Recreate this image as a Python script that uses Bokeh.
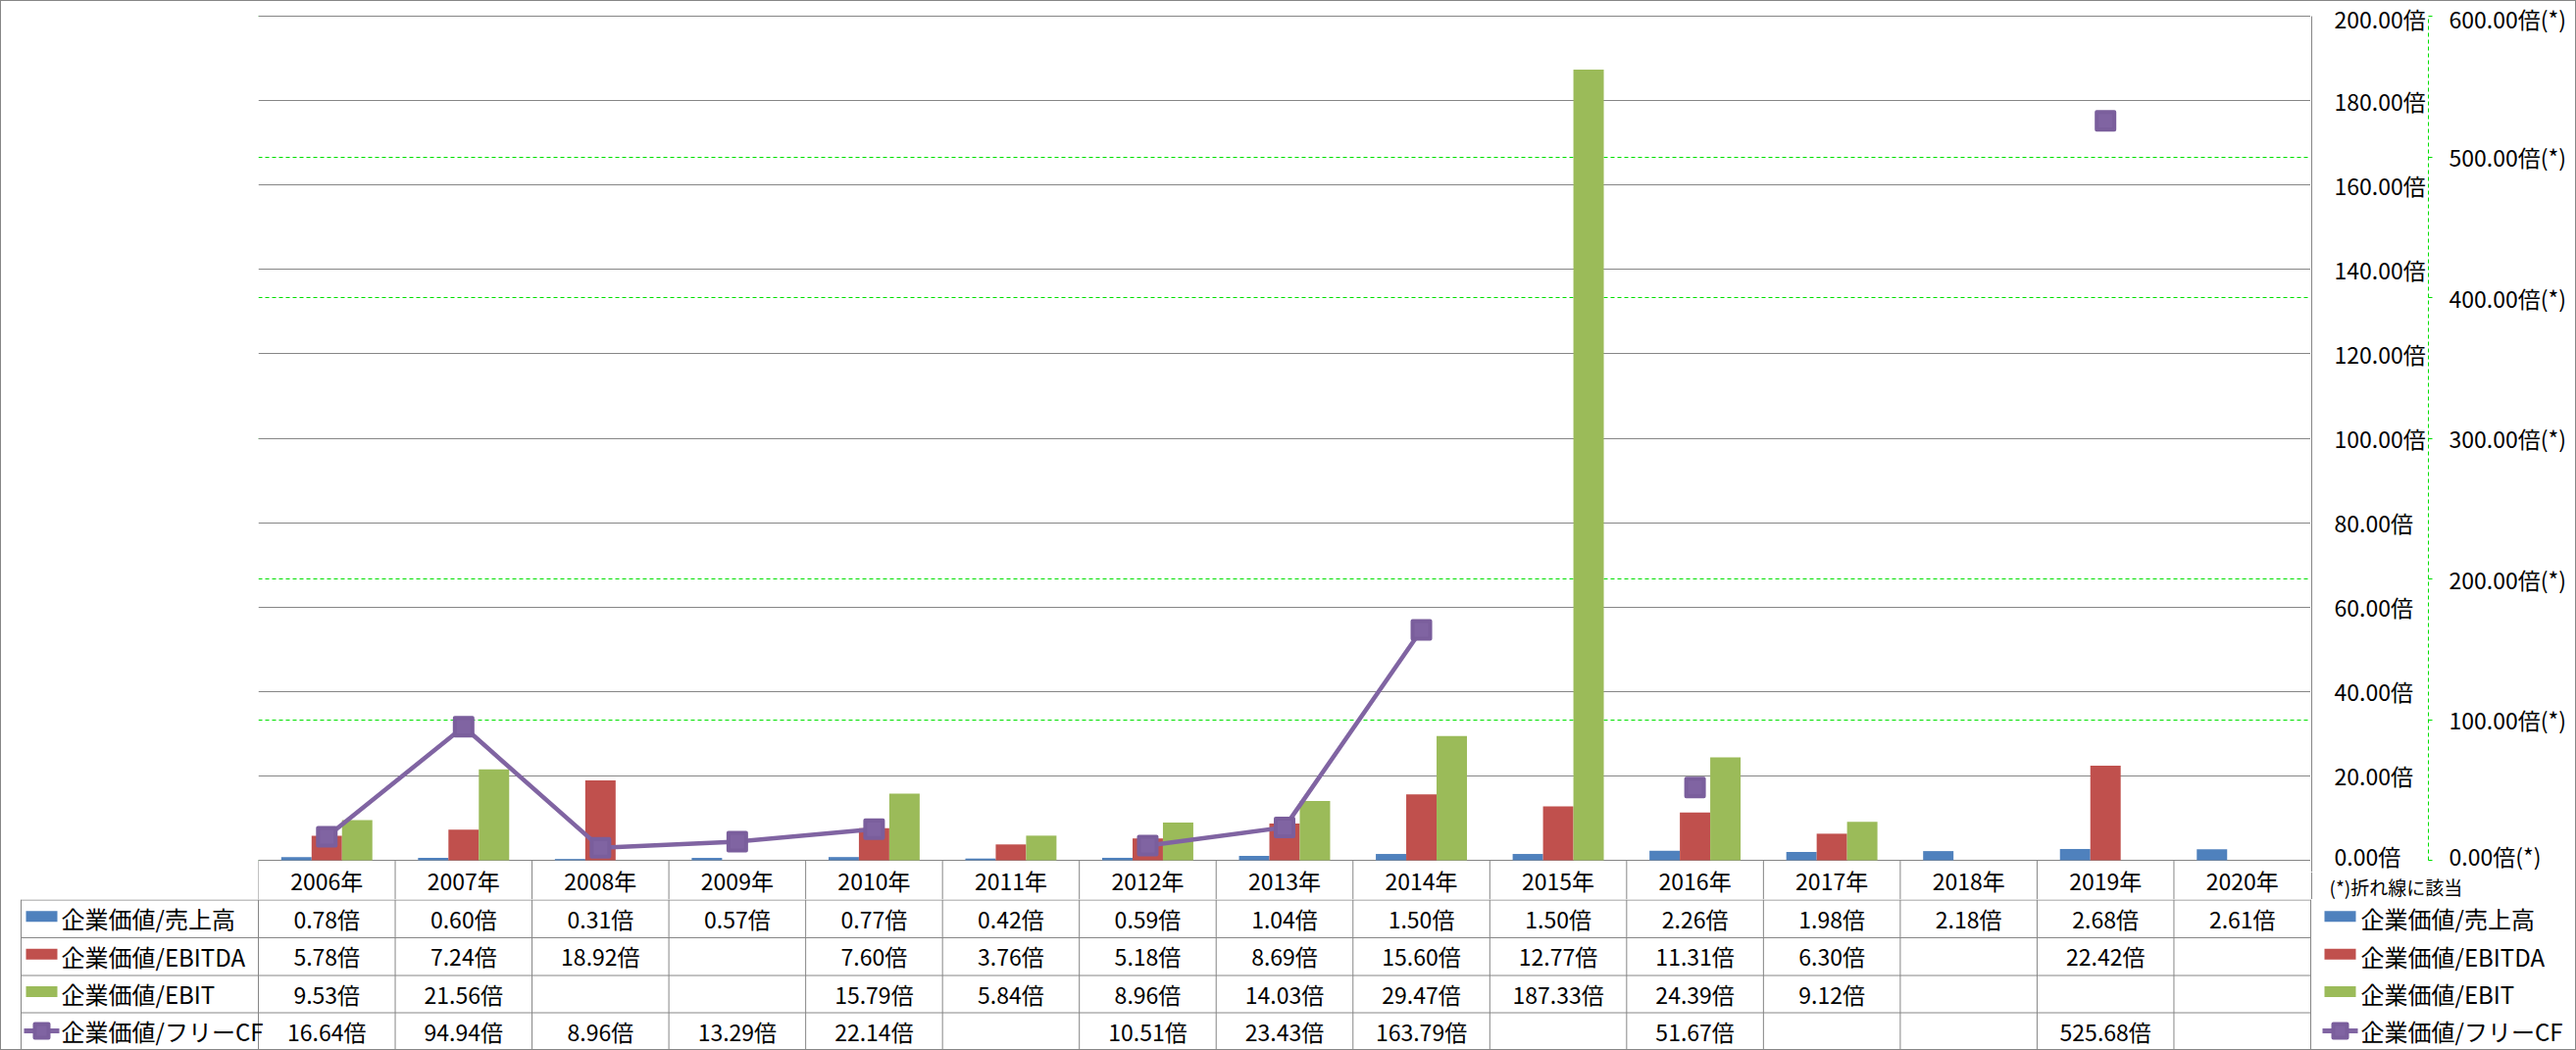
from bokeh.plotting import figure
from bokeh.layouts import column, row
from bokeh.models import Range1d, LinearAxis, FixedTicker, Grid, ColumnDataSource
from bokeh.transform import dodge
from bokeh.core.properties import value
from bokeh.embed import file_html
from bokeh.resources import INLINE

nan = float("nan")

# ---------------- data ----------------
years = ["2006年", "2007年", "2008年", "2009年", "2010年", "2011年", "2012年", "2013年",
         "2014年", "2015年", "2016年", "2017年", "2018年", "2019年", "2020年"]
ev_sales = [0.78, 0.60, 0.31, 0.57, 0.77, 0.42, 0.59, 1.04, 1.50, 1.50, 2.26, 1.98, 2.18, 2.68, 2.61]
ev_ebitda = [5.78, 7.24, 18.92, nan, 7.60, 3.76, 5.18, 8.69, 15.60, 12.77, 11.31, 6.30, nan, 22.42, nan]
ev_ebit = [9.53, 21.56, nan, nan, 15.79, 5.84, 8.96, 14.03, 29.47, 187.33, 24.39, 9.12, nan, nan, nan]
ev_fcf = [16.64, 94.94, 8.96, 13.29, 22.14, nan, 10.51, 23.43, 163.79, nan, 51.67, nan, nan, 525.68, nan]
series_names = ["企業価値/売上高", "企業価値/EBITDA", "企業価値/EBIT", "企業価値/フリーCF"]

primary_ticks = [0, 20, 40, 60, 80, 100, 120, 140, 160, 180, 200]
primary_tick_labels = ["0.00倍", "20.00倍", "40.00倍", "60.00倍", "80.00倍", "100.00倍",
                       "120.00倍", "140.00倍", "160.00倍", "180.00倍", "200.00倍"]
secondary_ticks = [0, 100, 200, 300, 400, 500, 600]
secondary_tick_labels = ["0.00倍(*)", "100.00倍(*)", "200.00倍(*)", "300.00倍(*)",
                         "400.00倍(*)", "500.00倍(*)", "600.00倍(*)"]
note_text = "(*)折れ線に該当"

# ---------------- style / layout ----------------
BLUE, RED, GREEN, PURPLE = "#4F81BD", "#C0504D", "#9BBB59", "#8064A2"
PURPLE_EDGE = "#7a5e9c"
GRAY = "#868686"
LIME = "#00E000"
FONT = "Noto Sans CJK JP"

W, H = 2627, 1071
FL, FR = 263, 2356          # plot area left / right (canvas px)
Y0, YTOP = 877, 16          # pixel of value 0 and of the top tick
SPLIT = 889                 # bottom of the axes block (right side)
ROWS = [877, 917, 955.5, 994, 1032, 1070]
YEAR_C = 897.5              # centre of the header row text
TL = 21                     # left edge of the table's label column
N = len(years)
CW = (FR - FL) / N
kp = (Y0 - YTOP) / primary_ticks[-1]
ks = (Y0 - YTOP) / secondary_ticks[-1]

INNER_W = W - 2
P_W = FR - 1
SIDE_W = INNER_W - P_W


def no_frame_align(fig):
    if "frame_align" in fig.properties():
        fig.frame_align = False
    fig.outline_line_color = None
    fig.background_fill_color = "white"
    fig.border_fill_color = "white"


def yr(top_px, bottom_px, k):
    return Range1d(-(bottom_px - Y0) / k, (Y0 - top_px) / k)


# ================= chart (plot area + header row) =================
p = figure(width=P_W, height=ROWS[1] - 1, x_range=years, y_range=yr(1, ROWS[1], kp),
           x_axis_type=None, y_axis_type=None, output_backend="svg", toolbar_location=None,
           min_border_left=FL - 1, min_border_right=0, min_border_top=0, min_border_bottom=0)
no_frame_align(p)
p.extra_y_ranges = {"sec": yr(1, ROWS[1], ks)}
p.x_range.range_padding = 0

sec_grid = Grid(dimension=1, ticker=FixedTicker(ticks=secondary_ticks), y_range_name="sec",
                grid_line_color=LIME, grid_line_dash="4 3", grid_line_width=1)
pri_grid = Grid(dimension=1, ticker=FixedTicker(ticks=primary_ticks),
                grid_line_color=GRAY, grid_line_width=1)
p.add_layout(sec_grid, "center")
p.add_layout(pri_grid, "center")

src = ColumnDataSource(dict(year=years, sales=ev_sales, ebitda=ev_ebitda, ebit=ev_ebit, fcf=ev_fcf))

bw = 0.222
p.vbar(x=dodge("year", -bw, range=p.x_range), top="sales", width=bw, source=src,
       fill_color=BLUE, line_color=None)
p.vbar(x=dodge("year", 0, range=p.x_range), top="ebitda", width=bw, source=src,
       fill_color=RED, line_color=None)
p.vbar(x=dodge("year", bw, range=p.x_range), top="ebit", width=bw, source=src,
       fill_color=GREEN, line_color=None)
p.line(x="year", y="fcf", source=src, y_range_name="sec", line_color=PURPLE,
       line_width=4.5, line_join="round")
p.scatter(x="year", y="fcf", source=src, y_range_name="sec", marker="square", size=18,
          fill_color=PURPLE, line_color=PURPLE_EDGE, line_width=4, line_join="round")

# header row: category boundaries and category names
bounds_x = list(range(N + 1))
p.segment(x0=bounds_x, x1=bounds_x, y0=0, y1=p.y_range.start, line_color=GRAY, line_width=1)
p.text(x="year", y=-(YEAR_C - Y0) / kp, text="year", source=src, text_align="center",
       text_baseline="middle", text_font=value(FONT), text_font_size="23px",
       text_color="black")

# ================= value axes (right side) =================
pa = figure(width=SIDE_W, height=SPLIT - 1, x_range=Range1d(0, 1), y_range=yr(1, SPLIT, kp),
            x_axis_type=None, y_axis_location="right", output_backend="svg",
            toolbar_location=None, min_border_left=0, min_border_right=SIDE_W - 1,
            min_border_top=0, min_border_bottom=0)
no_frame_align(pa)
pa.extra_y_ranges = {"sec": yr(1, SPLIT, ks)}
pa.ygrid.visible = False

ya = pa.yaxis[0]
ya.ticker = FixedTicker(ticks=primary_ticks)
ya.bounds = (pa.y_range.start, primary_ticks[-1])
ya.major_label_overrides = {t: l for t, l in zip(primary_ticks, primary_tick_labels)}
ya.axis_line_color = GRAY
ya.major_tick_out = 0
ya.major_tick_in = 0
ya.minor_tick_out = 0
ya.minor_tick_in = 0
ya.major_label_standoff = 23
ya.major_label_text_font = FONT
ya.major_label_text_font_size = "23px"
ya.major_label_text_color = "black"

sa = LinearAxis(y_range_name="sec", ticker=FixedTicker(ticks=secondary_ticks),
                bounds=(secondary_ticks[0], secondary_ticks[-1]))
sa.major_label_overrides = {t: l for t, l in zip(secondary_ticks, secondary_tick_labels)}
sa.axis_line_color = LIME
sa.axis_line_dash = "4 3"
sa.major_tick_out = 4
sa.major_tick_in = 0
sa.major_tick_line_color = LIME
sa.minor_tick_out = 0
sa.minor_tick_in = 0
sa.major_label_standoff = 17
sa.major_label_text_font = FONT
sa.major_label_text_font_size = "23px"
sa.major_label_text_color = "black"
pa.add_layout(sa, "right")

# ================= note under the axes =================
pn = figure(width=SIDE_W, height=ROWS[1] - SPLIT, x_range=Range1d(FR, W - 1),
            y_range=Range1d(ROWS[1], SPLIT), x_axis_type=None, y_axis_type=None,
            output_backend="svg", toolbar_location=None,
            min_border_left=0, min_border_right=0, min_border_top=0, min_border_bottom=0)
no_frame_align(pn)
pn.segment(x0=[FR + 1], x1=[FR + 1], y0=[SPLIT], y1=[ROWS[1]], line_color=GRAY, line_width=1)
pn.text(x=[2375], y=[903.5], text=[note_text], text_align="left", text_baseline="middle",
        text_font=value(FONT), text_font_size="19px", text_color="black")


# ================= data table =================
def u(X):
    return (X - FL) / CW


p2 = figure(width=INNER_W, height=ROWS[-1] - ROWS[1],
            x_range=Range1d(u(1), u(W - 1)), y_range=Range1d(ROWS[-1], ROWS[1]),
            x_axis_type=None, y_axis_type=None, output_backend="svg", toolbar_location=None,
            min_border_left=0, min_border_right=0, min_border_top=0, min_border_bottom=0)
no_frame_align(p2)

vx0, vx1, vy0, vy1 = [], [], [], []
for i in range(N + 1):
    vx0.append(i); vx1.append(i); vy0.append(ROWS[1]); vy1.append(ROWS[-1])
vx0.append(u(TL)); vx1.append(u(TL)); vy0.append(ROWS[1]); vy1.append(ROWS[-1])
for y in ROWS[1:-1]:
    vx0.append(u(TL)); vx1.append(N); vy0.append(y + 0.5); vy1.append(y + 0.5)
p2.segment(x0=vx0, x1=vx1, y0=vy0, y1=vy1, line_color=GRAY, line_width=1)

cell_x = [i + 0.5 for i in range(N)]
row_centers = [(ROWS[i] + ROWS[i + 1]) / 2 for i in range(1, 5)]
for vals, yc in zip([ev_sales, ev_ebitda, ev_ebit, ev_fcf], row_centers):
    txt = ["" if (v != v) else f"{v:.2f}倍" for v in vals]
    s = ColumnDataSource(dict(x=cell_x, t=txt))
    p2.text(x="x", y=yc, text="t", source=s, text_align="center", text_baseline="middle",
            text_font=value(FONT), text_font_size="23px", text_color="black")

# legends: the table's label column and the right-hand legend
key_colors = [BLUE, RED, GREEN]
for i, (name, yc) in enumerate(zip(series_names, row_centers)):
    for kx0, kx1, tx in [(26, 58, 62), (2370, 2402, 2407)]:
        kc = (kx0 + kx1) / 2
        if i < 3:
            p2.rect(x=u(kc), y=yc - 2, width=kx1 - kx0, height=11, width_units="screen",
                    height_units="screen", fill_color=key_colors[i], line_color=None)
        else:
            p2.segment(x0=u(kx0 - 2), x1=u(kx1 + 2), y0=yc, y1=yc, line_color=PURPLE,
                       line_width=5)
            p2.scatter(x=u(kc), y=yc, marker="square", size=14, fill_color=PURPLE,
                       line_color=PURPLE_EDGE, line_width=4, line_join="round")
        p2.text(x=u(tx), y=yc, text=[name], text_align="left", text_baseline="middle",
                text_font=value(FONT), text_font_size="24px", text_color="black")

lay = column(row(p, column(pa, pn)), p2)
lay.styles = {"border": "1px solid #868686"}

open("out.html", "w").write(file_html(lay, INLINE))
